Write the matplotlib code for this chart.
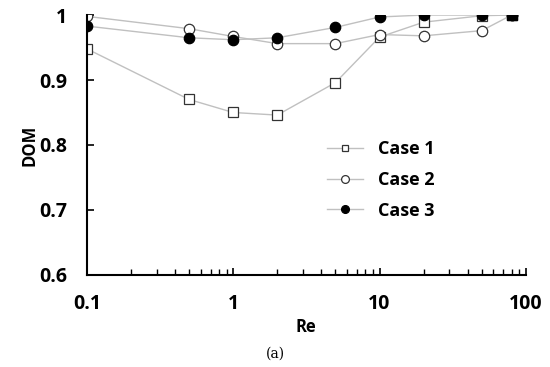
import numpy as np
import matplotlib.pyplot as plt
from matplotlib.ticker import LogLocator, NullFormatter, FixedLocator

re_vals = [0.1, 0.5, 1, 2, 5, 10, 20, 50, 80]
case1 = [0.948, 0.870, 0.850, 0.846, 0.896, 0.966, 0.989, 0.999, 1.0]
case2 = [0.998, 0.979, 0.967, 0.956, 0.956, 0.970, 0.968, 0.976, 1.0]
case3 = [0.983, 0.965, 0.962, 0.965, 0.981, 0.997, 1.0, 1.0, 1.0]
labels = ['Case 1', 'Case 2', 'Case 3']

plt.rcParams['font.family'] = ['Open Sans', 'DejaVu Sans']

fig = plt.figure(figsize=(5.5, 3.67), dpi=100)
ax = fig.add_axes([0.158, 0.251, 0.798, 0.708])

line_c = '#c0c0c0'
ax.plot(re_vals, case1, color=line_c, lw=1, marker='s', ms=6.5, mfc='white',
        mec='#333333', mew=0.9, label=labels[0])
ax.plot(re_vals, case2, color=line_c, lw=1, marker='o', ms=7.5, mfc='white',
        mec='#333333', mew=0.9, label=labels[1])
ax.plot(re_vals, case3, color=line_c, lw=1, marker='o', ms=7.5, mfc='black',
        mec='black', mew=0.9, label=labels[2])
# last point of case 1 drawn as filled square on top
ax.plot(re_vals[-1:], case1[-1:], ls='none', marker='s', ms=6.5, mfc='black', mec='black')

ax.set_xscale('log')
ax.set_xlim(0.1, 100)
ax.set_ylim(0.6, 1.0)
ax.set_yticks([0.6, 0.7, 0.8, 0.9, 1.0])
ax.set_yticklabels(['0.6', '0.7', '0.8', '0.9', '1'])
ax.xaxis.set_major_locator(FixedLocator([0.1, 1, 10, 100]))
ax.set_xticklabels(['0.1', '1', '10', '100'])
ax.xaxis.set_minor_locator(LogLocator(base=10, subs=np.arange(2, 10)))
ax.xaxis.set_minor_formatter(NullFormatter())

for s in ['top', 'right']:
    ax.spines[s].set_visible(False)
for s in ['left', 'bottom']:
    ax.spines[s].set_linewidth(1.5)

ax.tick_params(axis='both', which='major', direction='in', length=5, width=1.2,
               labelsize=14)
ax.tick_params(axis='x', which='major', pad=14)
ax.tick_params(axis='y', which='major', pad=14)
ax.tick_params(axis='x', which='minor', direction='in', length=4, width=1)
for t in ax.get_xticklabels() + ax.get_yticklabels():
    t.set_fontweight('bold')

ax.set_xlabel('Re', fontsize=12, fontweight='bold', labelpad=3)
ax.set_ylabel('DOM', fontsize=12, fontweight='bold', labelpad=1)

ax.legend(loc='upper left', bbox_to_anchor=(0.51, 0.58), frameon=False,
          prop={'weight': 'bold', 'size': 13}, handlelength=2.0,
          labelspacing=0.7, markerscale=0.75)

fig.text(0.5, 0.025, '(a)', ha='center', fontsize=10, family='DejaVu Serif')

fig.savefig('out.png', dpi=100)
